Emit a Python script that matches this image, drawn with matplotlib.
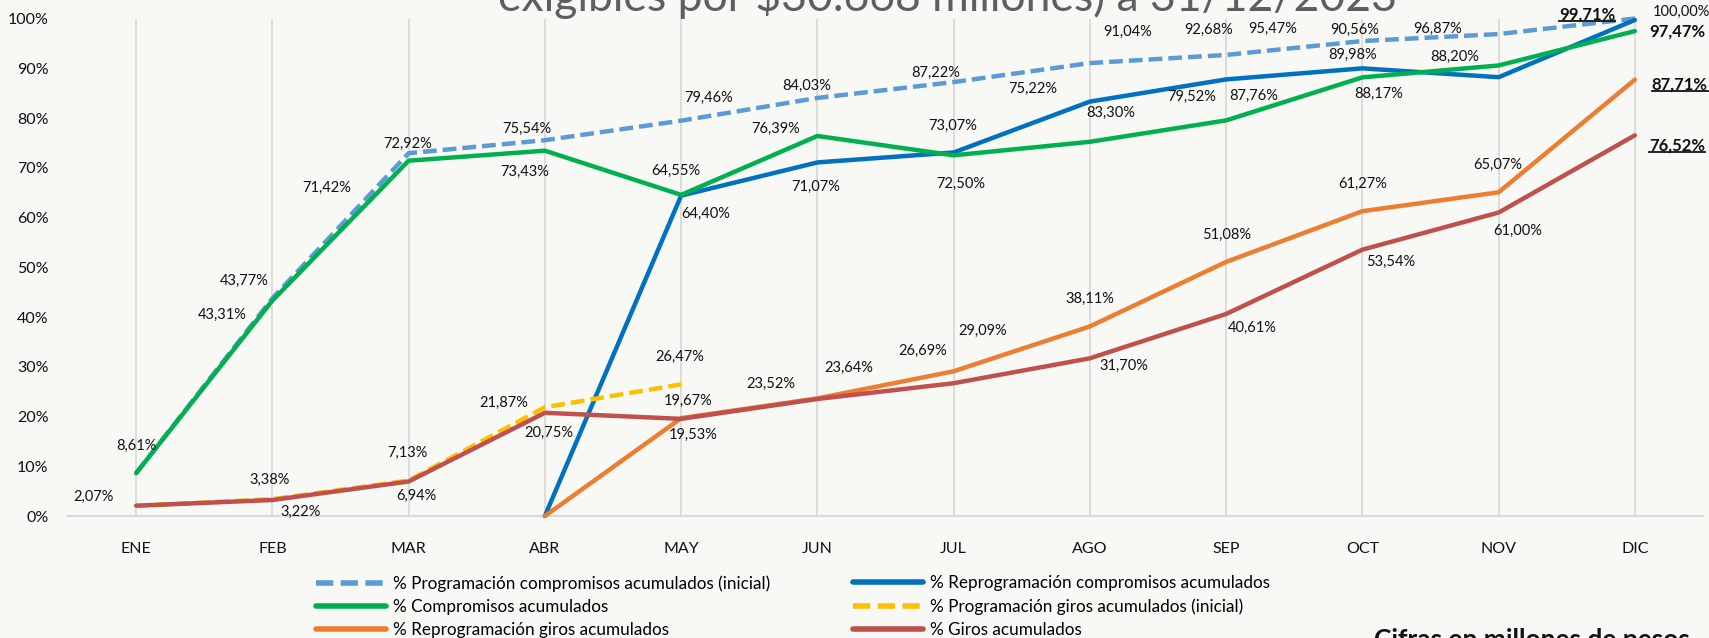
import matplotlib
matplotlib.use("Agg")
import matplotlib.pyplot as plt
from matplotlib.lines import Line2D
import numpy as np

# datos (porcentajes acumulados)
meses = ["ENE", "FEB", "MAR", "ABR", "MAY", "JUN", "JUL", "AGO", "SEP", "OCT", "NOV", "DIC"]

prog_compromisos = [8.61, 43.77, 72.92, 75.54, 79.46, 84.03, 87.22, 91.04, 92.68, 95.47, 96.87, 100.00]
reprog_compromisos = [None, None, None, 0.00, 64.40, 71.07, 73.07, 83.30, 87.76, 89.98, 88.20, 99.71]
compromisos = [8.61, 43.31, 71.42, 73.43, 64.55, 76.39, 72.50, 75.22, 79.52, 88.17, 90.56, 97.47]
prog_giros = [2.07, 3.38, 7.13, 21.87, 26.47, None, None, None, None, None, None, None]
reprog_giros = [None, None, None, 0.00, 19.67, 23.64, 29.09, 38.11, 51.08, 61.27, 65.07, 87.71]
giros = [2.07, 3.22, 6.94, 20.75, 19.53, 23.52, 26.69, 31.70, 40.61, 53.54, 61.00, 76.52]

nombres = [
    "% Programación compromisos acumulados (inicial)",
    "% Reprogramación compromisos acumulados",
    "% Compromisos acumulados",
    "% Programación giros acumulados (inicial)",
    "% Reprogramación giros acumulados",
    "% Giros acumulados",
]

# posiciones de las etiquetas (como quedaron movidas a mano en el original)
pos_prog_comp = [None, (0.79, 47.2), (1.99, 74.8), (2.87, 77.9), (4.2, 84.0), (4.92, 86.4),
                 (5.87, 89.1), (7.28, 97.3), (7.87, 97.7), (8.34, 98.0), (9.55, 98.0), (11.34, 101.4)]
pos_reprog_comp = [None, None, None, None, (4.18, 60.7), (4.99, 66.1), (5.99, 78.5),
                   (7.15, 81.1), (8.20, 84.4), (8.93, 92.7), (9.68, 92.3), (10.65, 100.9)]
pos_comp = [(0.0, 14.07), (0.63, 40.5), (1.40, 66.0), (2.85, 69.1), (3.96, 69.3), (4.69, 77.9),
            (6.05, 66.7), (6.58, 85.8), (7.75, 84.2), (9.12, 84.8), (8.94, 97.8), (11.31, 97.3)]
pos_prog_giros = [None, (0.98, 7.24), (1.99, 12.7), (2.70, 22.8), (3.99, 32.0),
                  None, None, None, None, None, None, None]
pos_reprog_giros = [None, None, None, None, (4.05, 23.2), (5.23, 29.7), (6.21, 37.2),
                    (7.0, 43.6), (8.0, 56.5), (9.0, 66.7), (9.99, 70.6), (11.33, 86.8)]
pos_giros = [(-0.31, 3.76), (1.21, 0.87), (2.06, 4.02), (3.03, 16.7), (4.09, 16.3), (4.66, 26.5),
             (5.77, 33.2), (7.25, 30.2), (8.19, 37.9), (9.21, 51.1), (10.14, 57.3), (11.31, 74.4)]

series = [prog_compromisos, reprog_compromisos, compromisos, prog_giros, reprog_giros, giros]
posiciones = [pos_prog_comp, pos_reprog_comp, pos_comp, pos_prog_giros, pos_reprog_giros, pos_giros]
colores = ["#5B9BD5", "#0070C0", "#00B050", "#FFC000", "#ED7D31", "#C0504D"]
guion = (0, (3.1, 1.35))
estilos = [guion, "-", "-", guion, "-", "-"]
# ultima etiqueta resaltada: 0 normal, 1 negrita, 2 negrita subrayada
resalte = [0, 2, 1, 0, 2, 2]

bg = "#F8F8F4"
plt.rcParams['font.family'] = ['Lato', 'DejaVu Sans']

fig = plt.figure(figsize=(17.09, 6.38), dpi=100, facecolor=bg)
ax = fig.add_axes([0.0398, 0.1912, 0.9567, 0.7798])
ax.set_facecolor(bg)

x = np.arange(len(meses))
for i, m in enumerate(meses):
    ax.axvline(i, color="#D9D9D9", lw=1.3, zorder=0)

lineas = []
for vals, col, ls, nom in zip(series, colores, estilos, nombres):
    y = np.array(vals, dtype=float)
    ln, = ax.plot(x, y, color=col, lw=3.2, ls=ls, label=nom, clip_on=False,
                  solid_capstyle="round", dash_capstyle="butt", zorder=3)
    lineas.append(ln)

subrayar = []
for vals, pos, res in zip(series, posiciones, resalte):
    ult = max(i for i, v in enumerate(vals) if v is not None)
    for i, (v, p) in enumerate(zip(vals, pos)):
        if v is None or p is None:
            continue
        txt = f"{v:.2f}".replace(".", ",") + "%"
        peso = "bold" if (i == ult and res > 0) else "normal"
        t = ax.text(p[0], p[1], txt, ha="center", va="center", fontsize=10.5 if peso == "normal" else 12,
                    fontweight=peso, color="#111111", clip_on=False, zorder=5)
        if i == ult and res == 2:
            subrayar.append(t)

ax.set_xlim(-0.5, 11.5)
ax.set_ylim(0, 100)
ax.set_xticks(x)
ax.set_xticklabels(meses, fontsize=11.5)
ax.set_yticks(np.arange(0, 101, 10))
ax.set_yticklabels([f"{v}%" for v in range(0, 101, 10)], fontsize=11.5)
ax.tick_params(axis="x", length=0, pad=19, colors="#111111")
ax.tick_params(axis="y", length=0, pad=14, colors="#111111")
for s in ["top", "right", "left"]:
    ax.spines[s].set_visible(False)
ax.spines["bottom"].set_color("#D9D9D9")
ax.spines["bottom"].set_linewidth(1.5)

# leyenda en dos columnas
orden = [[0, 2, 4], [1, 3, 5]]
for col_idx, x0 in zip(orden, [316, 853]):
    leg = fig.legend([lineas[k] for k in col_idx], [nombres[k] for k in col_idx],
                     loc="upper left", bbox_to_anchor=(x0 / 1709, 1 - 575 / 638),
                     frameon=False, fontsize=12.3, handlelength=4.1, handletextpad=0.4,
                     labelspacing=0.42, borderpad=0, borderaxespad=0)
    for h in leg.legend_handles:
        h.set_linewidth(4)

# titulo (cortado arriba en el original)
fig.text(948 / 1709, 1 - 11 / 638, "exigibles por $30.668 millones) a 31/12/2023", ha="center",
         va="baseline", fontsize=32, color="#5E5E5E")
fig.text(1374 / 1709, 1 - 628 / 638, "Cifras en millones de pesos", ha="left", va="top",
         fontsize=19, fontweight="bold", color="#111111")

fig.canvas.draw()
r = fig.canvas.get_renderer()
W, H = fig.bbox.width, fig.bbox.height
for t in subrayar:
    bb = t.get_window_extent(r)
    yy = (bb.y0 + 1.5) / H
    fig.add_artist(Line2D([bb.x0 / W, bb.x1 / W], [yy, yy], transform=fig.transFigure,
                          color="#111111", lw=1.3))

fig.savefig("out.png", dpi=100, facecolor=bg)
